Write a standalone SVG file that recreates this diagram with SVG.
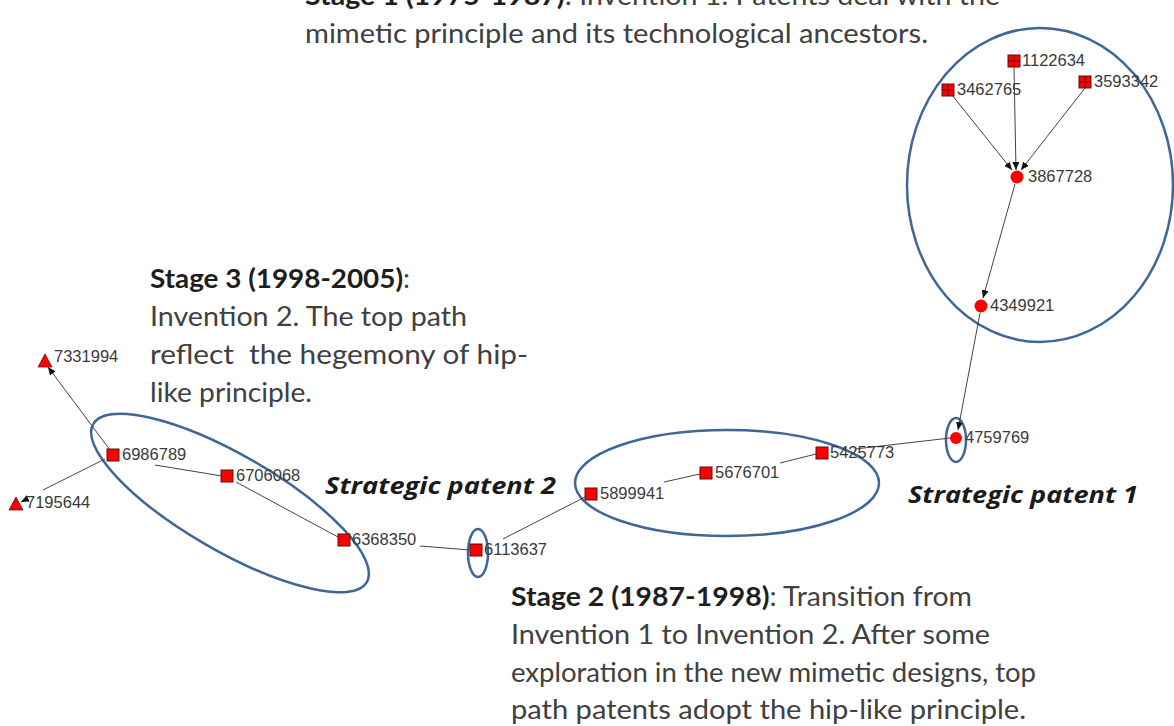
<svg xmlns="http://www.w3.org/2000/svg" width="1174" height="726" viewBox="0 0 1174 726">
<style>
.t{font-family:Lato,"Open Sans","Liberation Sans",sans-serif;font-size:26px;fill:#404040}
.b{font-weight:bold;fill:#1e1e1e}
.sp{font-family:"Open Sans",Lato,"Liberation Sans",sans-serif;font-size:24px;font-weight:bold;font-style:italic;fill:#1a1a1a}
.lb{font-family:"Liberation Sans",Arial,sans-serif;font-size:16.5px;fill:#3a3a3a}
.e{stroke:#444;stroke-width:1;fill:none}
.ea{stroke:#444;stroke-width:1;fill:none;marker-end:url(#ah)}
.sq{fill:#ff0000;stroke:#5a1010;stroke-width:1}
.grid{stroke:#5a1010;stroke-width:1}
.ring{fill:none;stroke:#3f6795;stroke-width:2.5}
</style>
<defs>
<marker id="ah" markerWidth="9" markerHeight="7" refX="8" refY="3.5" orient="auto" markerUnits="userSpaceOnUse">
<path d="M0,0 L8,3.5 L0,7 z" fill="#111"/>
</marker>
</defs>
<rect width="1174" height="726" fill="#ffffff"/>

<g id="stage-rings">
<ellipse class="ring" cx="1040" cy="185" rx="133" ry="157"/>
<ellipse class="ring" cx="727" cy="483" rx="152" ry="53"/>
<ellipse class="ring" cx="230" cy="503" rx="158" ry="48" transform="rotate(30 230 503)"/>
<ellipse class="ring" cx="956" cy="440" rx="10" ry="22"/>
<ellipse class="ring" cx="478" cy="553" rx="10" ry="24"/>
</g>

<g id="connectors">
<line class="ea" x1="948" y1="90" x2="1012" y2="170"/>
<line class="ea" x1="1014" y1="67" x2="1016" y2="170"/>
<line class="ea" x1="1085" y1="88" x2="1021" y2="170"/>
<line class="ea" x1="1015" y1="184" x2="983" y2="298"/>
<line class="ea" x1="980" y1="313" x2="958" y2="430"/>
<line class="e" x1="855" y1="449" x2="950" y2="438"/>
<line class="e" x1="780" y1="463" x2="816" y2="454"/>
<line class="e" x1="664" y1="482" x2="700" y2="474"/>
<line class="e" x1="503" y1="539" x2="585" y2="497"/>
<line class="e" x1="420" y1="546" x2="470" y2="550"/>
<line class="e" x1="236" y1="482" x2="338" y2="537"/>
<line class="e" x1="155" y1="465" x2="222" y2="476"/>
<line class="ea" x1="110" y1="450" x2="48" y2="367"/>
<line class="e" x1="105" y1="459" x2="43" y2="490"/>
<line class="ea" x1="27" y1="499" x2="21" y2="502"/>
</g>

<g id="n1122634"><rect class="sq" x="1008" y="55" width="12" height="12"/><path class="grid" d="M1014,55 V67 M1008,61 H1020"/><text class="lb" x="1022" y="66">1122634</text></g>
<g id="n3462765"><rect class="sq" x="942" y="84" width="12" height="12"/><path class="grid" d="M948,84 V96 M942,90 H954"/><text class="lb" x="957" y="95">3462765</text></g>
<g id="n3593342"><rect class="sq" x="1079" y="76" width="12" height="12"/><path class="grid" d="M1085,76 V88 M1079,82 H1091"/><text class="lb" x="1094" y="87">3593342</text></g>
<g id="n3867728"><circle cx="1017" cy="177" r="6.5" fill="#ff0000"/><text class="lb" x="1028" y="182">3867728</text></g>
<g id="n4349921"><circle cx="981" cy="306" r="6.5" fill="#ff0000"/><text class="lb" x="990" y="311">4349921</text></g>
<g id="n4759769"><circle cx="956" cy="438" r="6" fill="#ff0000"/><text class="lb" x="965" y="443">4759769</text></g>
<g id="n5425773"><rect class="sq" x="816" y="447" width="12" height="12"/><text class="lb" x="830" y="458">5425773</text></g>
<g id="n5676701"><rect class="sq" x="700" y="467" width="12" height="12"/><text class="lb" x="715" y="478">5676701</text></g>
<g id="n5899941"><rect class="sq" x="585" y="488" width="12" height="12"/><text class="lb" x="600" y="499">5899941</text></g>
<g id="n6113637"><rect class="sq" x="470" y="544" width="12" height="12"/><text class="lb" x="484" y="555">6113637</text></g>
<g id="n6368350"><rect class="sq" x="338" y="534" width="12" height="12"/><text class="lb" x="352" y="545">6368350</text></g>
<g id="n6706068"><rect class="sq" x="221" y="470" width="12" height="12"/><text class="lb" x="236" y="481">6706068</text></g>
<g id="n6986789"><rect class="sq" x="107" y="449" width="12" height="12"/><text class="lb" x="122" y="460">6986789</text></g>
<g id="n7331994"><polygon points="45,354 52,367 38,367" fill="#ff0000" stroke="#5a1010" stroke-width="0.8"/><text class="lb" x="54" y="362">7331994</text></g>
<g id="n7195644"><polygon points="16,497 23,510 9,510" fill="#ff0000" stroke="#5a1010" stroke-width="0.8"/><text class="lb" x="26" y="508">7195644</text></g>

<g id="stage1-text">
<text class="t" x="305" y="5" textLength="695" lengthAdjust="spacingAndGlyphs"><tspan class="b">Stage 1 (1975-1987)</tspan>: Invention 1. Patents deal with the</text>
<text class="t" x="305" y="43" textLength="623" lengthAdjust="spacingAndGlyphs">mimetic principle and its technological ancestors.</text>
</g>

<g id="stage3-text">
<text class="t" x="150" y="288" textLength="260" lengthAdjust="spacingAndGlyphs"><tspan class="b">Stage 3 (1998-2005)</tspan>:</text>
<text class="t" x="150" y="326" textLength="317" lengthAdjust="spacingAndGlyphs">Invention 2. The top path</text>
<text class="t" x="150" y="364" textLength="378" lengthAdjust="spacingAndGlyphs" xml:space="preserve">reflect  the hegemony of hip-</text>
<text class="t" x="150" y="402" textLength="162" lengthAdjust="spacingAndGlyphs">like principle.</text>
</g>

<g id="stage2-text">
<text class="t" x="511" y="606" textLength="461" lengthAdjust="spacingAndGlyphs"><tspan class="b">Stage 2 (1987-1998)</tspan>: Transition from</text>
<text class="t" x="511" y="644" textLength="479" lengthAdjust="spacingAndGlyphs">Invention 1 to Invention 2. After some</text>
<text class="t" x="511" y="682" textLength="525" lengthAdjust="spacingAndGlyphs">exploration in the new mimetic designs, top</text>
<text class="t" x="511" y="719" textLength="515" lengthAdjust="spacingAndGlyphs">path patents adopt the hip-like principle.</text>
</g>

<g id="strategic-labels">
<text class="sp" x="325" y="494" textLength="231" lengthAdjust="spacingAndGlyphs">Strategic patent 2</text>
<text class="sp" x="908" y="503" textLength="230" lengthAdjust="spacingAndGlyphs">Strategic patent 1</text>
</g>
</svg>
